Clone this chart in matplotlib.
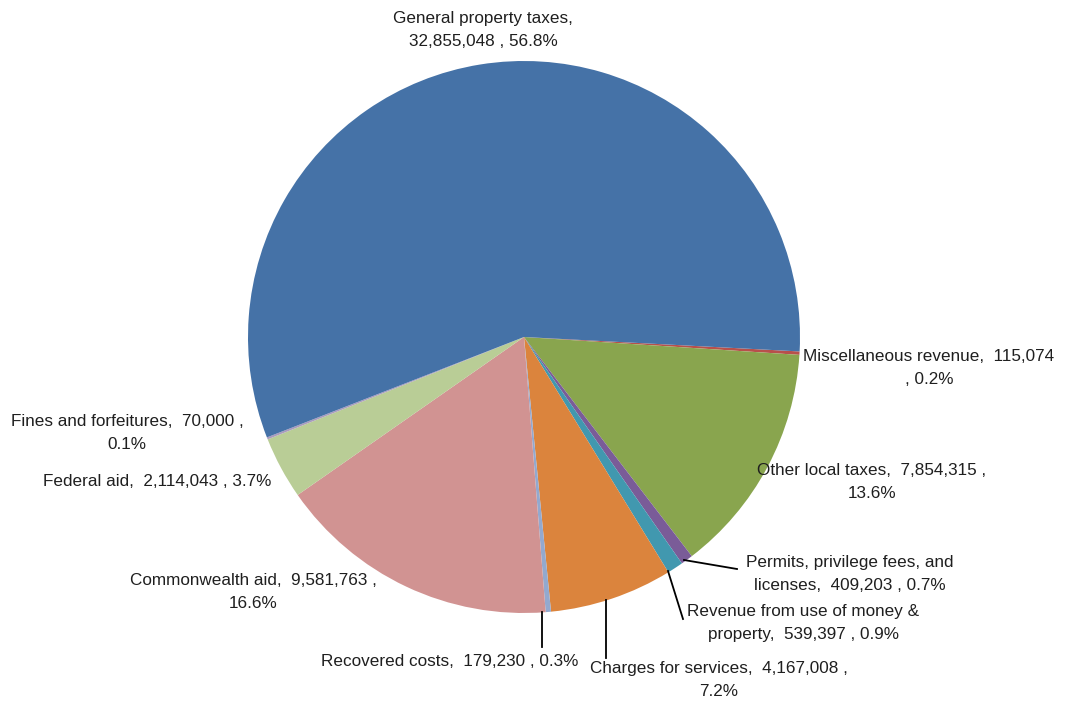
import matplotlib.pyplot as plt

# revenue sources, in the order they are drawn clockwise from 3 o'clock
sources = ["Miscellaneous revenue", "Other local taxes",
           "Permits, privilege fees, and licenses",
           "Revenue from use of money & property", "Charges for services",
           "Recovered costs", "Commonwealth aid", "Federal aid",
           "Fines and forfeitures", "General property taxes"]
amounts = [115074, 7854315, 409203, 539397, 4167008,
           179230, 9581763, 2114043, 70000, 32855048]
percents = [0.2, 13.6, 0.7, 0.9, 7.2, 0.3, 16.6, 3.7, 0.1, 56.8]
colors = ["#B8504B", "#89A54E", "#7A5C98", "#4198AF", "#DB843D",
          "#93A9CF", "#D19392", "#B9CD96", "#A99BBD", "#4572A7"]

# how each data label wraps
label_texts = [
    "Miscellaneous revenue,  115,074\n, 0.2%",
    "Other local taxes,  7,854,315 ,\n13.6%",
    "Permits, privilege fees, and\nlicenses,  409,203 , 0.7%",
    "Revenue from use of money &\nproperty,  539,397 , 0.9%",
    "Charges for services,  4,167,008 ,\n7.2%",
    "Recovered costs,  179,230 , 0.3%",
    "Commonwealth aid,  9,581,763 ,\n16.6%",
    "Federal aid,  2,114,043 , 3.7%",
    "Fines and forfeitures,  70,000 ,\n0.1%",
    "General property taxes,\n32,855,048 , 56.8%",
]

W, H = 1067, 708
plt.rcParams["font.family"] = ["Liberation Sans", "DejaVu Sans"]

fig = plt.figure(figsize=(W / 100, H / 100), dpi=100)
ax = fig.add_axes([0, 0, 1, 1])

cx, cy, r = 524, H - 337, 276
ax.pie(amounts, colors=colors, startangle=-3, counterclock=False,
       center=(cx, cy), radius=r, wedgeprops=dict(linewidth=0))
ax.set_xlim(0, W)
ax.set_ylim(0, H)
ax.set_aspect("equal")
ax.axis("off")

# label centres (x, y from top)
label_pos = [(929, 368), (872, 482), (850, 574), (803, 623), (719, 680),
             (450, 661), (253, 592), (157, 481), (127, 433), (483, 30)]
for txt, (x, y) in zip(label_texts, label_pos):
    ax.text(x, H - y, txt, ha="center", va="center", fontsize=12.3,
            color="#1f1f1f", linespacing=1.62)

# leader lines for the thin slices at the bottom
leaders = [[(684, 560), (737, 569)],
           [(668, 571), (683, 619)],
           [(606, 600), (606, 658)],
           [(542, 612), (542, 647)]]
for pts in leaders:
    xs = [p[0] for p in pts]
    ys = [H - p[1] for p in pts]
    ax.plot(xs, ys, color="black", linewidth=1.3)

fig.savefig("out.png", dpi=100)
